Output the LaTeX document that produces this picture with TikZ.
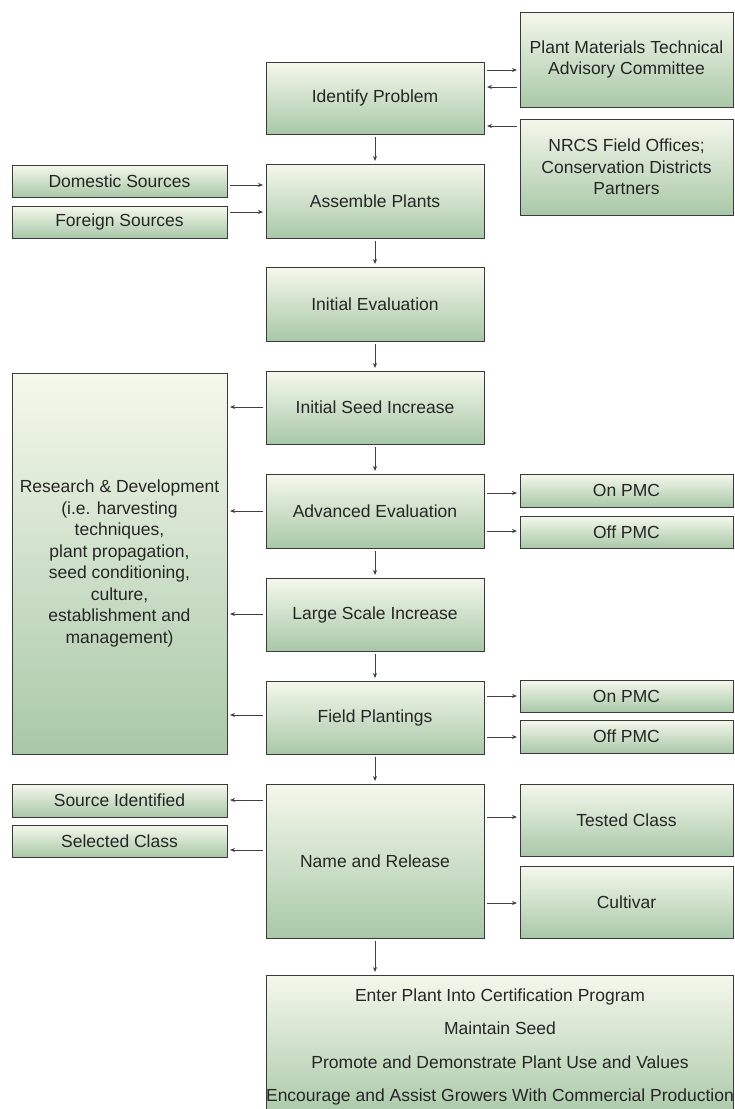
\documentclass[tikz,border=0pt]{standalone}
\usepackage{fontspec}
\setmainfont{Liberation Sans}
\usetikzlibrary{arrows.meta,calc}
\definecolor{gtop}{HTML}{F5F8EC}
\definecolor{gbot}{HTML}{A9C8A8}
\definecolor{edge}{HTML}{3A3A3A}
\definecolor{arrc}{HTML}{404040}
\tikzset{
  box/.style={draw=edge, line width=0.9pt, top color=gtop, bottom color=gbot,
    inner sep=0pt, outer sep=0pt, align=center, text=black!85,
    font=\fontsize{17.5}{21.5}\selectfont},
  arr/.style={draw=arrc, line width=0.7pt, -{Stealth[length=5pt,width=4pt]},
    shorten <=3pt, shorten >=3pt},
}
\begin{document}
\begin{tikzpicture}[x=1pt,y=-1pt]
\useasboundingbox (0,0) rectangle (734,1109);
% main column
\node[box, minimum width=218, minimum height=72] (ip) at (375,98) {Identify Problem};
\node[box, minimum width=218, minimum height=74] (ap) at (375,201) {Assemble Plants};
\node[box, minimum width=218, minimum height=74] (ie) at (375,304) {Initial Evaluation};
\node[box, minimum width=218, minimum height=73] (isi) at (375,407.5) {Initial Seed Increase};
\node[box, minimum width=218, minimum height=74] (ae) at (375,511) {Advanced Evaluation};
\node[box, minimum width=218, minimum height=73] (lsi) at (375,614.5) {Large Scale Increase};
\node[box, minimum width=218, minimum height=73] (fp) at (375,717.5) {Field Plantings};
\node[box, minimum width=218, minimum height=154] (nr) at (375,861) {Name and Release};
\node[box, minimum width=466, minimum height=144, font=\fontsize{17.5}{33.5}\selectfont] (bot) at (500,1047)
  {Enter Plant Into Certification Program\\Maintain Seed\\Promote and Demonstrate Plant Use and Values\\Encourage and Assist Growers With Commercial Production};
% right column
\node[box, minimum width=213, minimum height=95] (tac) at (626.5,59.5) {Plant Materials Technical\\Advisory Committee};
\node[box, minimum width=213, minimum height=96] (nrcs) at (626.5,167) {NRCS Field Offices;\\Conservation Districts\\Partners};
\node[box, minimum width=213, minimum height=33] (on1) at (626.5,490.5) {On PMC};
\node[box, minimum width=213, minimum height=32] (off1) at (626.5,532) {Off PMC};
\node[box, minimum width=213, minimum height=32] (on2) at (626.5,696) {On PMC};
\node[box, minimum width=213, minimum height=33] (off2) at (626.5,736.5) {Off PMC};
\node[box, minimum width=213, minimum height=72] (tc) at (626.5,820) {Tested Class};
\node[box, minimum width=213, minimum height=72] (cv) at (626.5,902) {Cultivar};
% left column
\node[box, minimum width=215, minimum height=32] (dom) at (119.5,181) {Domestic Sources};
\node[box, minimum width=215, minimum height=32] (for) at (119.5,222) {Foreign Sources};
\node[box, minimum width=215, minimum height=381] (rd) at (119.5,563.5)
  {Research \& Development\\(i.e. harvesting\\techniques,\\plant propagation,\\seed conditioning,\\culture,\\establishment and\\management)};
\node[box, minimum width=215, minimum height=33] (si) at (119.5,800.5) {Source Identified};
\node[box, minimum width=215, minimum height=32] (sc) at (119.5,841) {Selected Class};
% vertical arrows
\draw[arr] (ip) -- (ap);
\draw[arr] (ap) -- (ie);
\draw[arr] (ie) -- (isi);
\draw[arr] (isi) -- (ae);
\draw[arr] (ae) -- (lsi);
\draw[arr] (lsi) -- (fp);
\draw[arr] (fp) -- (nr);
\draw[arr] (nr.south) -- (nr.south |- bot.north);
% top right
\draw[arr] (ip.east |- 0,70) -- (tac.west |- 0,70);
\draw[arr] (tac.west |- 0,87) -- (ip.east |- 0,87);
\draw[arr] (nrcs.west |- 0,126) -- (ip.east |- 0,126);
% sources
\draw[arr] (dom.east |- 0,185) -- (ap.west |- 0,185);
\draw[arr] (for.east |- 0,212) -- (ap.west |- 0,212);
% R&D
\draw[arr] (isi.west |- 0,407) -- (rd.east |- 0,407);
\draw[arr] (ae.west |- 0,511) -- (rd.east |- 0,511);
\draw[arr] (lsi.west |- 0,614) -- (rd.east |- 0,614);
\draw[arr] (fp.west |- 0,715) -- (rd.east |- 0,715);
% PMC
\draw[arr] (ae.east |- 0,493) -- (on1.west |- 0,493);
\draw[arr] (ae.east |- 0,531) -- (off1.west |- 0,531);
\draw[arr] (fp.east |- 0,696) -- (on2.west |- 0,696);
\draw[arr] (fp.east |- 0,737) -- (off2.west |- 0,737);
% name and release
\draw[arr] (nr.west |- 0,800) -- (si.east |- 0,800);
\draw[arr] (nr.west |- 0,850) -- (sc.east |- 0,850);
\draw[arr] (nr.east |- 0,817) -- (tc.west |- 0,817);
\draw[arr] (nr.east |- 0,903) -- (cv.west |- 0,903);
\end{tikzpicture}
\end{document}
